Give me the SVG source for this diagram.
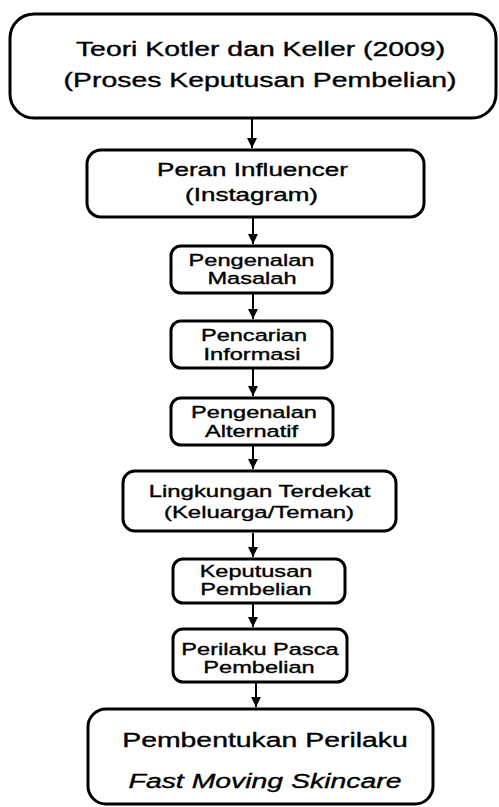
<svg xmlns="http://www.w3.org/2000/svg" width="499" height="807" viewBox="0 0 499 807">
<defs>
<style>
.box{fill:#fff;stroke:#000;stroke-width:3}
.t{font-family:"Liberation Sans",Arial,sans-serif;fill:#000;stroke:#000;stroke-width:0.35;text-anchor:middle}
.b{font-size:20px}
.m{font-size:18px}
.s{font-size:16.5px}
.c{stroke:#000;stroke-width:2;fill:none}
</style>
<marker id="ah" viewBox="0 0 10 10" refX="10" refY="5" markerWidth="10" markerHeight="10" markerUnits="userSpaceOnUse" orient="auto">
<path d="M0,0 L10,5 L0,10 Z" fill="#000"/>
</marker>
</defs>
<rect width="499" height="807" fill="#fff"/>
<g id="connectors">
<line class="c" x1="252" y1="119" x2="252" y2="148" marker-end="url(#ah)"/>
<line class="c" x1="253" y1="218" x2="253" y2="244" marker-end="url(#ah)"/>
<line class="c" x1="253" y1="294" x2="253" y2="319" marker-end="url(#ah)"/>
<line class="c" x1="253" y1="369" x2="253" y2="396" marker-end="url(#ah)"/>
<line class="c" x1="253" y1="446" x2="253" y2="469" marker-end="url(#ah)"/>
<line class="c" x1="253" y1="533" x2="253" y2="557" marker-end="url(#ah)"/>
<line class="c" x1="253" y1="604" x2="253" y2="627" marker-end="url(#ah)"/>
<line class="c" x1="256" y1="683" x2="256" y2="707" marker-end="url(#ah)"/>
</g>
<g id="n1">
<rect class="box" x="10" y="14" width="486" height="104" rx="24"/>
<text class="t b" transform="translate(260.5,56) scale(1.42,1)">Teori Kotler dan Keller (2009)</text>
<text class="t b" transform="translate(260,87) scale(1.42,1)">(Proses Keputusan Pembelian)</text>
</g>
<g id="n2">
<rect class="box" x="87" y="150" width="337" height="67" rx="14"/>
<text class="t m" transform="translate(252.5,176) scale(1.445,1)">Peran Influencer</text>
<text class="t m" transform="translate(251.5,201) scale(1.445,1)">(Instagram)</text>
</g>
<g id="n3">
<rect class="box" x="171" y="246" width="161" height="47" rx="10"/>
<text class="t s" transform="translate(251.5,266) scale(1.43,1)">Pengenalan</text>
<text class="t s" transform="translate(252,284) scale(1.43,1)">Masalah</text>
</g>
<g id="n4">
<rect class="box" x="171" y="321" width="161" height="47" rx="10"/>
<text class="t s" transform="translate(254,341) scale(1.43,1)">Pencarian</text>
<text class="t s" transform="translate(252,360) scale(1.43,1)">Informasi</text>
</g>
<g id="n5">
<rect class="box" x="171" y="398" width="162" height="47" rx="10"/>
<text class="t s" transform="translate(254,418) scale(1.43,1)">Pengenalan</text>
<text class="t s" transform="translate(251.5,437) scale(1.43,1)">Alternatif</text>
</g>
<g id="n6">
<rect class="box" x="123" y="471" width="273" height="60" rx="12"/>
<text class="t s" transform="translate(259.5,497) scale(1.45,1)">Lingkungan Terdekat</text>
<text class="t s" transform="translate(259,518) scale(1.45,1)">(Keluarga/Teman)</text>
</g>
<g id="n7">
<rect class="box" x="173" y="559" width="172" height="44" rx="10"/>
<text class="t s" transform="translate(256,577) scale(1.43,1)">Keputusan</text>
<text class="t s" transform="translate(256,595) scale(1.43,1)">Pembelian</text>
</g>
<g id="n8">
<rect class="box" x="173" y="629" width="174" height="53" rx="10"/>
<text class="t s" transform="translate(260,655) scale(1.43,1)">Perilaku Pasca</text>
<text class="t s" transform="translate(259,673) scale(1.43,1)">Pembelian</text>
</g>
<g id="n9">
<rect class="box" x="88" y="709" width="345" height="95" rx="18"/>
<text class="t b" transform="translate(265,747) scale(1.42,1)">Pembentukan Perilaku</text>
<text class="t b" font-style="italic" transform="translate(265,788) scale(1.42,1)">Fast Moving Skincare</text>
</g>
</svg>
